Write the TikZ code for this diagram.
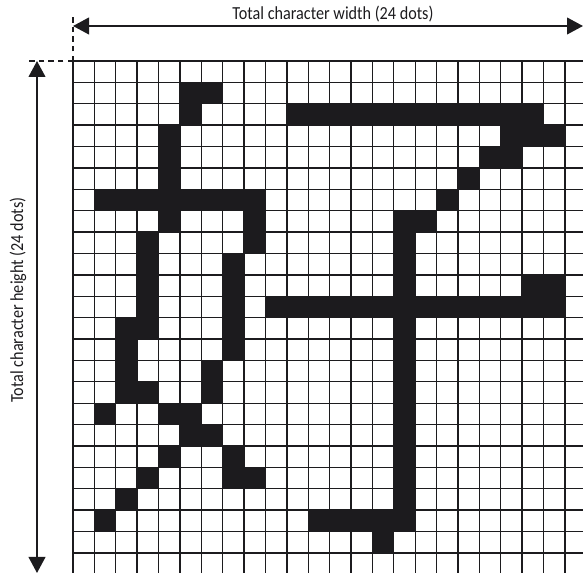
\documentclass[tikz,border=0pt]{standalone}
\usepackage{fontspec}
\setmainfont{Carlito}[FakeStretch=0.88]
\usepackage{xcolor}
\usepackage{tikz}
\usetikzlibrary{positioning, arrows.meta}
\definecolor{ink}{RGB}{28,27,30}
\begin{document}
\begin{tikzpicture}[
  x=0.75pt, y=-0.75pt,
  gridline/.style={draw=ink, line width=1pt},
  dot/.style={fill=ink},
  span/.style={{Triangle[length=12pt, width=12.5pt]}-{Triangle[length=12pt, width=12.5pt]}, draw=ink, line width=1.5pt},
  guide/.style={draw=ink, line width=0.8pt, dash pattern=on 4pt off 3.2pt},
  lab/.style={font=\fontsize{13.8}{15}\selectfont, text=ink, inner sep=1pt}]
  \useasboundingbox (0,0) rectangle (583,573);
  \clip (0,0) rectangle (583,573);
  % dots and grid, counted in cells
  \begin{scope}[shift={(73,61)}, x=16.04pt, y=-16.04pt]
    \foreach \r/\a/\b in {1/5/7, 2/5/6, 2/10/22, 3/4/5, 3/20/23, 4/4/5, 4/19/21, 5/4/5, 5/18/19,
        6/1/9, 6/17/18, 7/4/5, 7/8/9, 7/15/17, 8/3/4, 8/8/9, 8/15/16, 9/3/4, 9/7/8, 9/15/16,
        10/3/4, 10/7/8, 10/15/16, 10/21/23, 11/3/4, 11/7/8, 11/9/23, 12/2/4, 12/7/8, 12/15/16,
        13/2/3, 13/7/8, 13/15/16, 14/2/3, 14/6/7, 14/15/16, 15/2/4, 15/6/7, 15/15/16,
        16/1/2, 16/4/6, 16/15/16, 17/5/7, 17/15/16, 18/4/5, 18/7/8, 18/15/16,
        19/3/4, 19/7/9, 19/15/16, 20/2/3, 20/15/16, 21/1/2, 21/11/16, 22/14/15}
      \fill[dot] (\a,\r) rectangle (\b,\r+1);
    \foreach \i in {0,...,24} {
      \draw[gridline] (\i,0) -- (\i,24);
      \draw[gridline] (0,\i) -- (24,\i);
    }
  \end{scope}
  \coordinate (corner) at (73,61);
  \coordinate (wleft) at (73,26);
  \coordinate (wright) at (583,26);
  \coordinate (htop) at (37,61);
  \coordinate (hbot) at (37,573);
  \coordinate (vend) at (73,15);
  \coordinate (hend) at (26,61);
  \draw[guide] (corner) -- (vend);
  \draw[guide] (corner) -- (hend);
  \draw[span] (wleft) -- (wright);
  \draw[span] (htop) -- (hbot);
  \node[lab] (wlabel) at (333,14.5) {Total character width (24 dots)};
  \node[lab, rotate=90] (hlabel) at (18,300) {Total character height (24 dots)};
\end{tikzpicture}
\end{document}
